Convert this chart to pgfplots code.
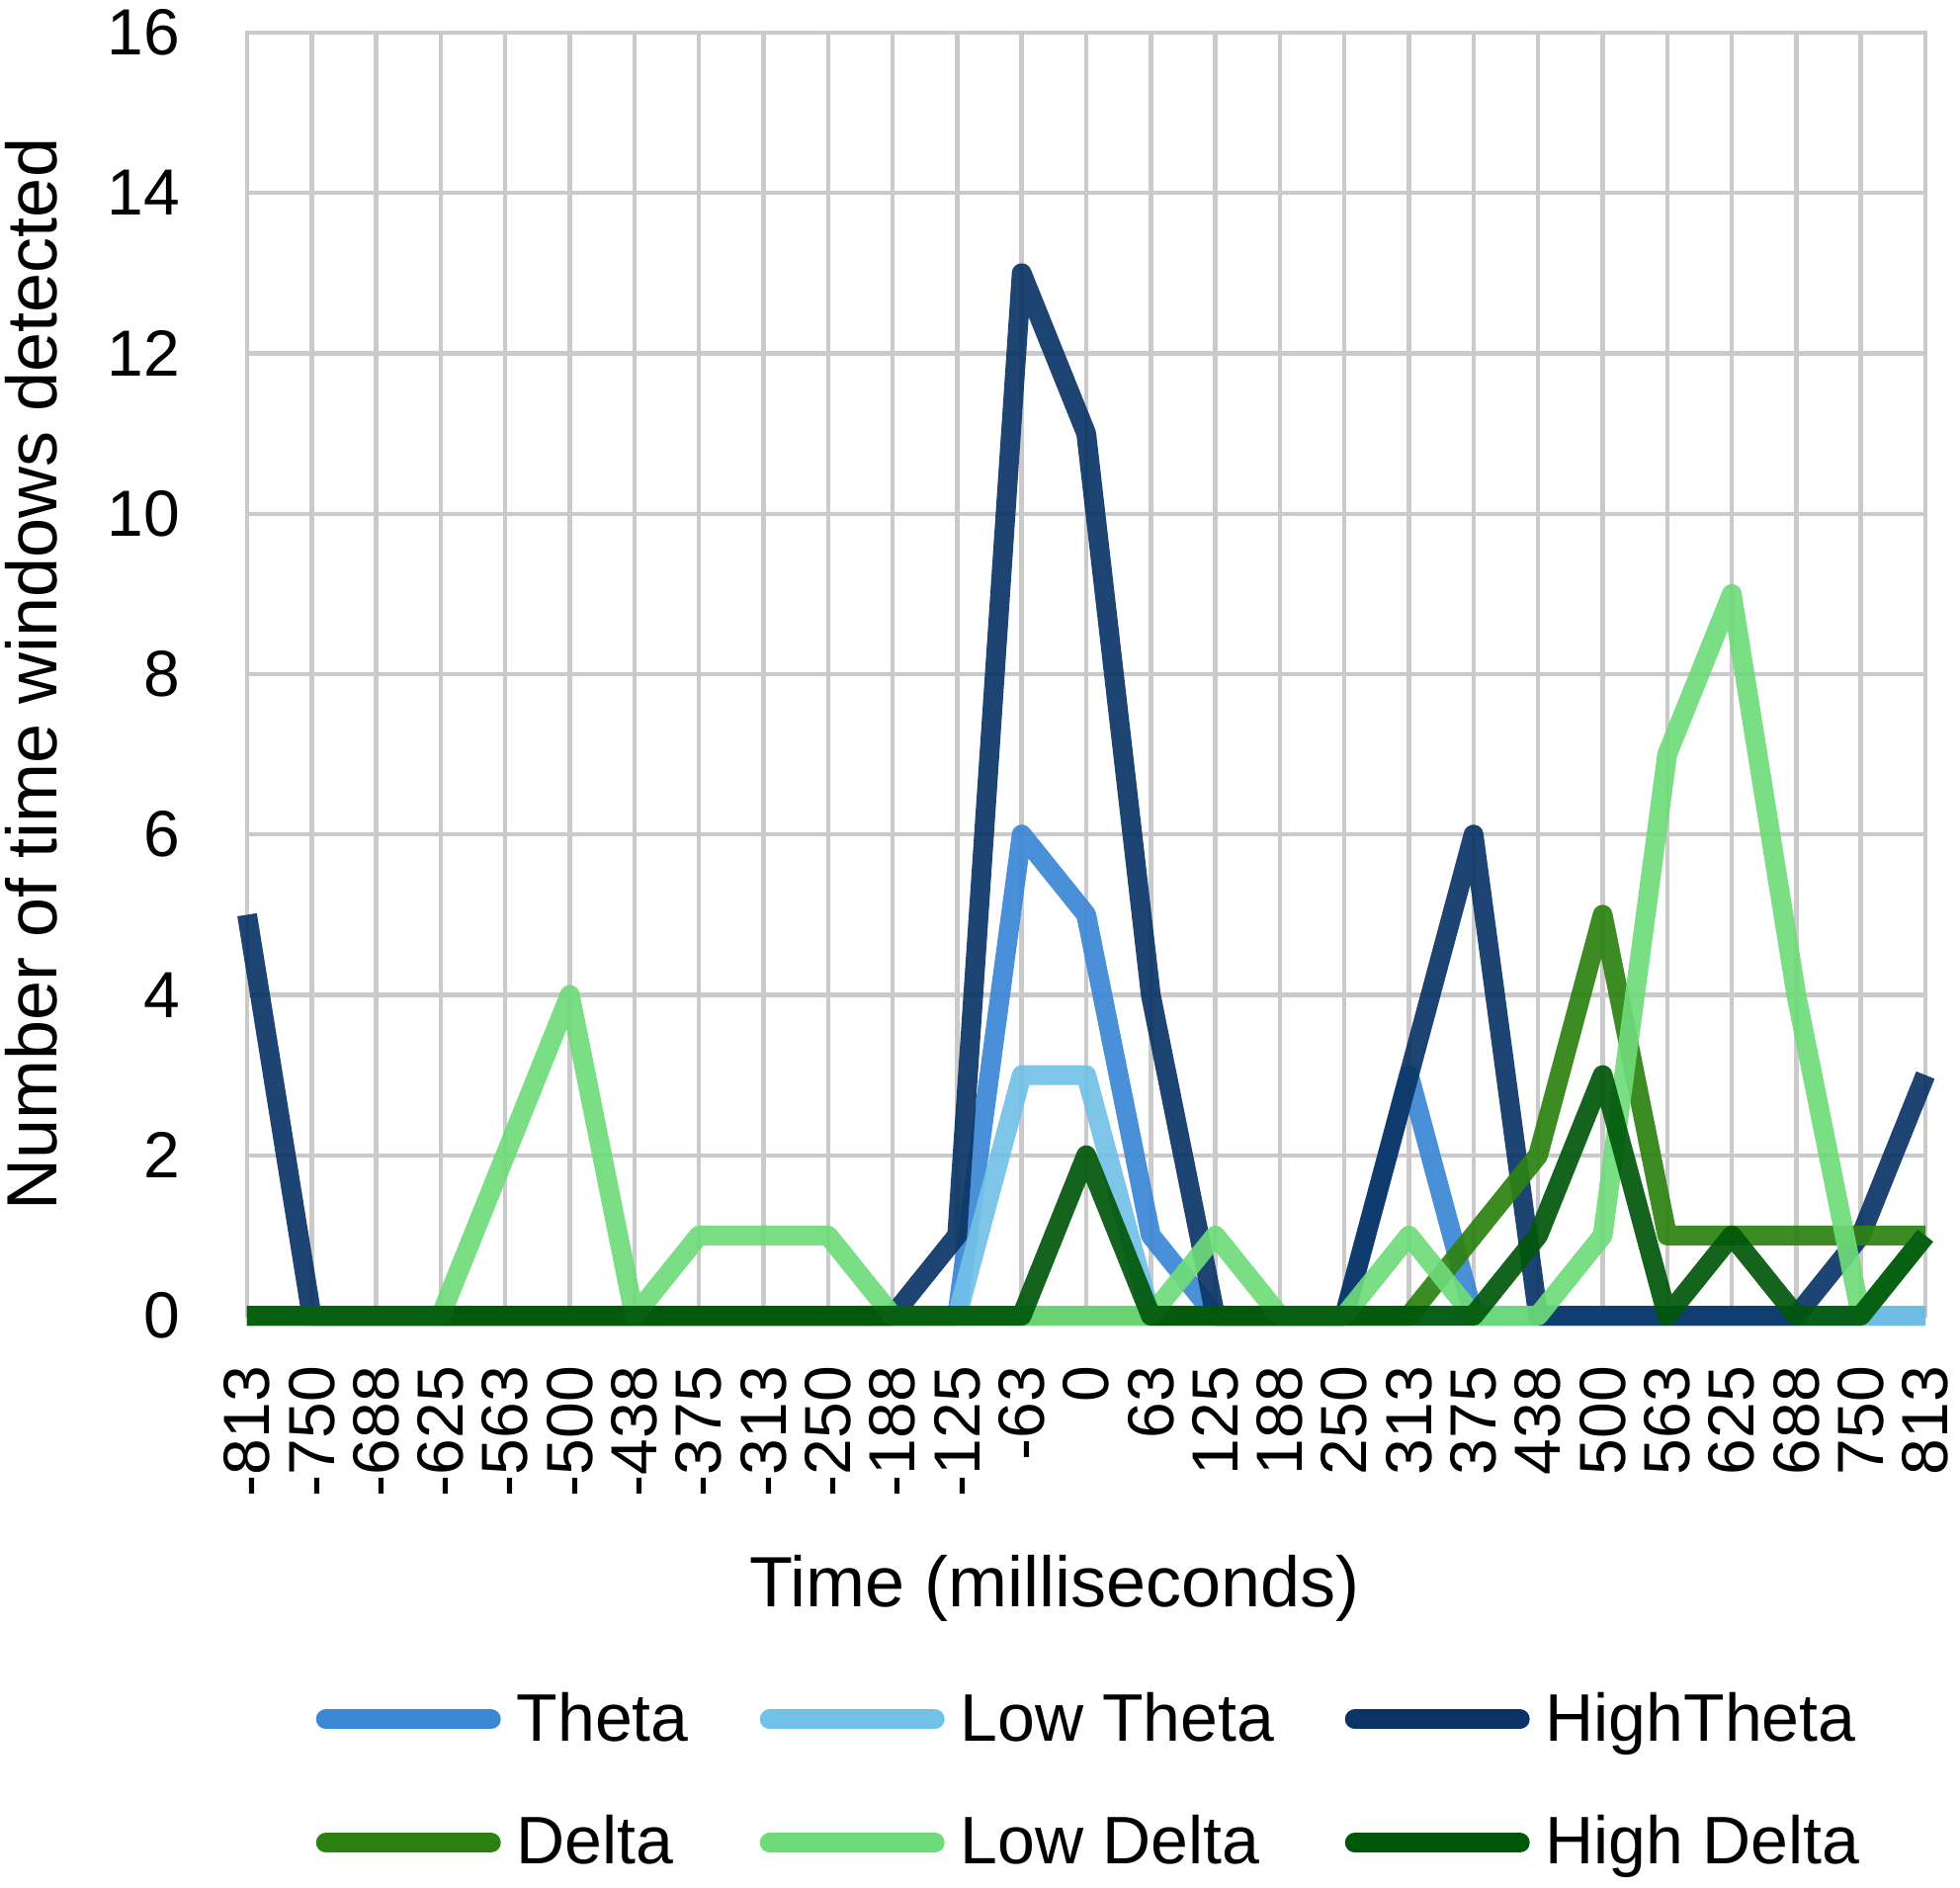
\documentclass[border=0pt]{standalone}
\usepackage{fontspec}
\setmainfont{Liberation Sans}
\usepackage{pgfplots}
\pgfplotsset{compat=1.18}
\usepackage{pgfplotstable}

\definecolor{cTheta}{HTML}{3A87D6}
\definecolor{cLowTheta}{HTML}{72C1E8}
\definecolor{cHighTheta}{HTML}{0A3466}
\definecolor{cDelta}{HTML}{2B8210}
\definecolor{cLowDelta}{HTML}{6EDB79}
\definecolor{cHighDelta}{HTML}{00570A}
\definecolor{cGrid}{HTML}{CACACA}

\pgfplotstableread{
x Theta LowTheta HighTheta Delta LowDelta HighDelta
0  0 0 5  0 0 0
1  0 0 0  0 0 0
2  0 0 0  0 0 0
3  0 0 0  0 0 0
4  0 0 0  0 2 0
5  0 0 0  0 4 0
6  0 0 0  0 0 0
7  0 0 0  0 1 0
8  0 0 0  0 1 0
9  0 0 0  0 1 0
10 0 0 0  0 0 0
11 0 0 1  0 0 0
12 6 3 13 0 0 0
13 5 3 11 0 0 2
14 1 0 4  0 0 0
15 0 0 0  0 1 0
16 0 0 0  0 0 0
17 0 0 0  0 0 0
18 3 0 3  0 1 0
19 0 0 6  1 0 0
20 0 0 0  2 0 1
21 0 0 0  5 1 3
22 0 0 0  1 7 0
23 0 0 0  1 9 1
24 0 0 0  1 4 0
25 0 0 1  1 0 0
26 0 0 3  1 1 1
}\data

\pgfplotsset{serie/.style={line width=5pt, line join=round, opacity=0.92}}

\begin{document}
\begin{tikzpicture}
\begin{axis}[
  scale only axis,
  width=424.5pt, height=324.5pt,
  xmin=0, xmax=26, ymin=0, ymax=16,
  clip=false,
  xtick={0,...,26},
  xticklabels={-813,-750,-688,-625,-563,-500,-438,-375,-313,-250,-188,-125,-63,0,63,125,188,250,313,375,438,500,563,625,688,750,813},
  ytick={0,2,...,16},
  major tick length=0pt,
  grid=major,
  grid style={cGrid, line width=1.1pt},
  axis line style={cGrid, line width=1.1pt},
  /pgf/number format/assume math mode=true,
  tick label style={font=\fontsize{16.5}{18}\selectfont},
  xticklabel style={rotate=90, anchor=east, inner sep=0pt},
  xticklabel shift=12.6pt,
  yticklabel style={anchor=east, inner sep=0pt},
  yticklabel shift=16.8pt,
  label style={font=\fontsize{18}{20}\selectfont},
  xlabel={Time (milliseconds)},
  ylabel={Number of time windows detected},
  xlabel style={at={(axis description cs:0.4812,-0.2126)}, anchor=center, inner sep=0pt},
  ylabel style={at={(axis description cs:-0.1284,0.5)}, anchor=center, inner sep=0pt},
  legend columns=3,
  legend style={draw=none, fill=none, inner sep=0pt, at={(axis description cs:0.0406,-0.2927)}, anchor=north west,
    font=\fontsize{17}{20}\selectfont, nodes={inner sep=0pt}, column sep=0pt, row sep=17.4pt},
  legend image code/.code={\path[draw=none,fill=none] (0pt,-3pt) rectangle (46.75pt,3pt); \draw[#1,line width=5pt,opacity=1,line cap=round,overlay] (2.5pt,0pt) -- (44.25pt,0pt);},
]
\addplot[cTheta, serie] table[x=x,y=Theta]{\data};
\addlegendentry{\makebox[65.5pt][l]{\hspace{4pt}Theta\rule[-6pt]{0pt}{18pt}}}
\addplot[cLowTheta, serie] table[x=x,y=LowTheta]{\data};
\addlegendentry{\makebox[101.25pt][l]{\hspace{4pt}Low Theta\rule[-6pt]{0pt}{18pt}}}
\addplot[cHighTheta, serie] table[x=x,y=HighTheta]{\data};
\addlegendentry{\makebox[80pt][l]{\hspace{4pt}HighTheta\rule[-6pt]{0pt}{18pt}}}
\addplot[cDelta, serie] table[x=x,y=Delta]{\data};
\addlegendentry{\makebox[65.5pt][l]{\hspace{4pt}Delta\rule[-6pt]{0pt}{18pt}}}
\addplot[cLowDelta, serie] table[x=x,y=LowDelta]{\data};
\addlegendentry{\makebox[101.25pt][l]{\hspace{4pt}Low Delta\rule[-6pt]{0pt}{18pt}}}
\addplot[cHighDelta, serie] table[x=x,y=HighDelta]{\data};
\addlegendentry{\makebox[80pt][l]{\hspace{4pt}High Delta\rule[-6pt]{0pt}{18pt}}}
\coordinate (sw) at (rel axis cs:0,0);
\end{axis}
\pgfresetboundingbox
\path (sw) ++(-62.5pt,-144.5pt) rectangle ++(495.75pt,477.25pt);
\end{tikzpicture}
\end{document}
